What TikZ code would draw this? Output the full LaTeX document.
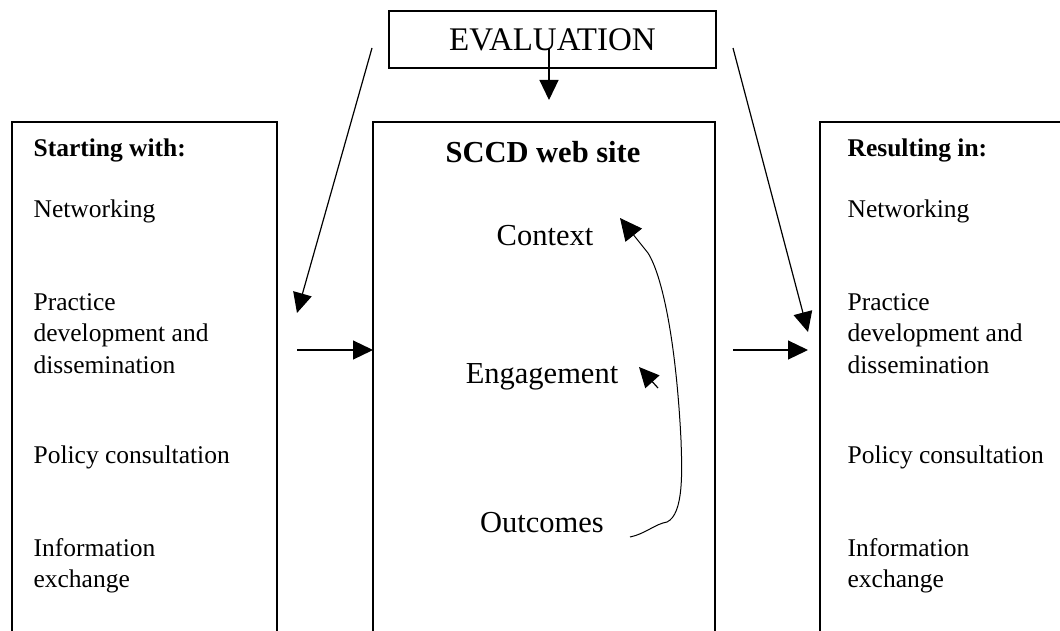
\documentclass[tikz,border=0pt]{standalone}
\usepackage{fontspec}
\setmainfont{Liberation Serif}
\usetikzlibrary{arrows.meta,positioning}
\tikzset{
	big/.style={font=\fontsize{30.5}{36}\selectfont, inner sep=0},
	small/.style={font=\fontsize{25.5}{31.5}\selectfont, anchor=base west, inner sep=0},
	col/.style={draw, minimum height=640pt, anchor=north west, inner sep=0, outer sep=0},
	bigtip/.style={-{Triangle[length=20pt,width=19pt]}},
	curvetip/.style={-{Triangle[length=22pt,width=21pt]}}
}
\newcommand{\lines}[1]{\begin{tabular}[t]{@{}l@{}}#1\end{tabular}}

\begin{document}
\begin{tikzpicture}[x=1pt, y=-1pt, line width=1.2pt]
	\useasboundingbox (0,0) rectangle (1060,631);
	\node[draw, minimum width=327pt, minimum height=57pt, inner sep=0,
		font=\fontsize{33}{38}\selectfont] (eval) at (552.5,39.5) {EVALUATION};
	\node[col, minimum width=265pt] (start) at (12,122) {};
	\node[col, minimum width=342pt] (site) at (373,122) {};
	\node[col, minimum width=300pt] (result) at (820,122) {};
	% left column
	\node[small] (s0) at (33,157) {\textbf{Starting with:}};
	\node[small] (s1) at (33,218) {Networking};
	\node[small] (s2) at (33,310) {\lines{Practice\\ development and\\ dissemination}};
	\node[small] (s3) at (33,463) {Policy consultation};
	\node[small] (s4) at (33,556) {\lines{Information\\ exchange}};
	% right column
	\node[small] (r0) at (847,157) {\textbf{Resulting in:}};
	\node[small] (r1) at (847,218) {Networking};
	\node[small] (r2) at (847,310) {\lines{Practice\\ development and\\ dissemination}};
	\node[small] (r3) at (847,463) {Policy consultation};
	\node[small] (r4) at (847,556) {\lines{Information\\ exchange}};
	% middle
	\node[big, anchor=base] (title) at (543,163) {\textbf{SCCD web site}};
	\node[big, anchor=base] (ctx) at (545,245) {Context};
	\node[big, anchor=base] (eng) at (542,383) {Engagement};
	\node[big, anchor=base] (out) at (542,532) {Outcomes};
	% loose ends of the arrows
	\coordinate (evalL) at (372,48);
	\coordinate (evalR) at (733,48);
	\coordinate (evalD) at (549,48);
	\coordinate (inL) at (297,313);
	\coordinate (inR) at (808,332);
	\coordinate (fromL) at (297,350);
	\coordinate (fromR) at (733,350);
	\coordinate (toR) at (808,350);
	\coordinate (engT) at (658,388);
	\coordinate (engH) at (639,367);
	\coordinate (outT) at (630,537);
	\coordinate (ctxH) at (620,218);
	\draw[bigtip] (evalD) -- (evalD |- 0,100);
	\draw[bigtip] (evalL) -- (inL);
	\draw[bigtip] (evalR) -- (inR);
	\draw[bigtip] (fromL) -- (site.west |- fromL);
	\draw[bigtip] (fromR) -- (toR);
	\draw[-{Triangle[length=20pt,width=19pt]}] (engT) -- (engH);
	\draw[curvetip, line width=1pt] (outT) .. controls (645,534) and (655,524) .. (667,522)
		.. controls (684,514) and (682,470) .. (681,440)
		.. controls (676,340) and (662,275) .. (648,253) -- (ctxH);
	%\path (eng) edge (ctx);
\end{tikzpicture}
\end{document}
